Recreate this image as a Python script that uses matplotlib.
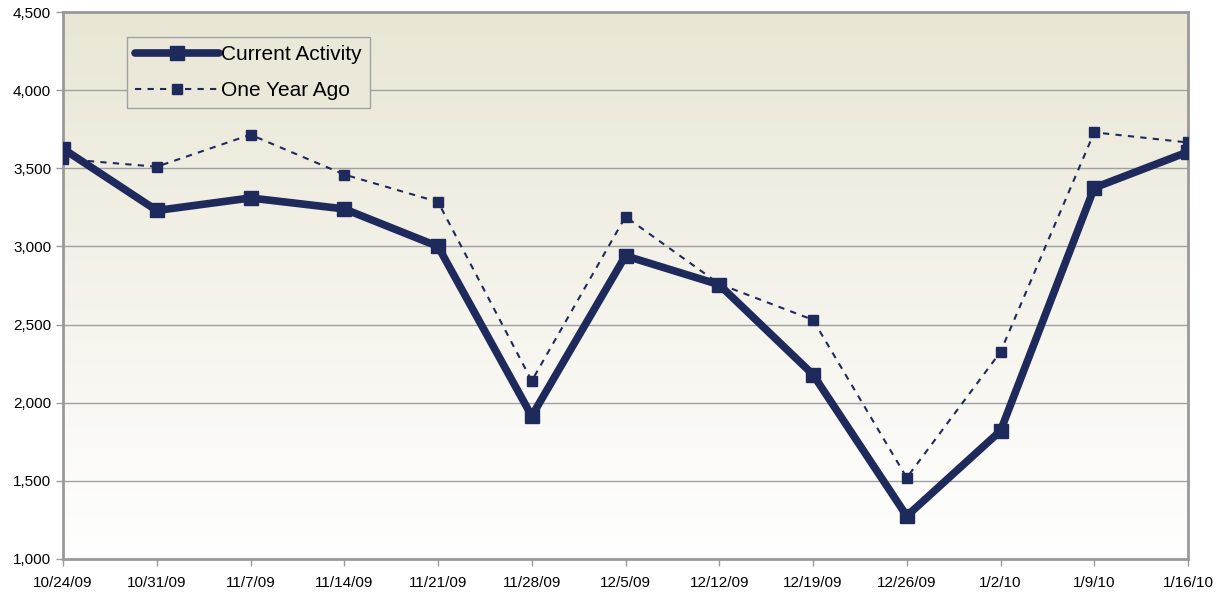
import numpy as np
import matplotlib
matplotlib.use("Agg")
import matplotlib.pyplot as plt
from matplotlib.colors import LinearSegmentedColormap

plt.rcParams['font.family'] = ['Liberation Sans', 'DejaVu Sans']

weeks = ['10/24/09', '10/31/09', '11/7/09', '11/14/09', '11/21/09', '11/28/09', '12/5/09',
         '12/12/09', '12/19/09', '12/26/09', '1/2/10', '1/9/10', '1/16/10']
current = [3625, 3230, 3310, 3240, 3000, 1915, 2940, 2755, 2180, 1275, 1820, 3375, 3605]
year_ago = [3560, 3510, 3715, 3460, 3285, 2140, 3190, 2760, 2530, 1520, 2325, 3730, 3665]

navy = '#1f2a5c'
x = np.arange(len(weeks))

fig = plt.figure(figsize=(12.2, 5.94), dpi=100)
ax = fig.add_axes([63/1220, 1 - 559/594, (1188-63)/1220, (559-12)/594])

# beige-to-white gradient background
cmap = LinearSegmentedColormap.from_list('bg', ['#ffffff', '#e9e6d5'])
grad = np.linspace(0, 1, 256).reshape(-1, 1)
ax.imshow(grad, cmap=cmap, aspect='auto', origin='lower',
          extent=[0, len(weeks)-1, 1000, 4500], zorder=0)

ax.plot(x, current, color=navy, lw=5.5, marker='s', ms=10, solid_capstyle='round',
        label='Current Activity', zorder=3)
ax.plot(x, year_ago, color=navy, lw=1.5, ls=(0, (3, 3)), marker='s', ms=7.5,
        label='One Year Ago', zorder=3)

ax.set_xlim(0, len(weeks)-1)
ax.set_ylim(1000, 4500)
ax.set_yticks(np.arange(1000, 4501, 500))
ax.yaxis.set_major_formatter(matplotlib.ticker.FuncFormatter(lambda v, p: '{:,.0f}'.format(v)))
ax.set_xticks(x)
ax.set_xticklabels(weeks)
ax.grid(axis='y', color='#a0a0a0', lw=1)
ax.set_axisbelow(True)
for s in ax.spines.values():
    s.set_color('#999999')
    s.set_linewidth(2)
ax.tick_params(colors='#999999', labelcolor='black', labelsize=11, length=5, width=1)
ax.tick_params(axis='x', pad=7)

leg = ax.legend(loc='upper left', bbox_to_anchor=(64/1125, 1 - 25/547), fontsize=15, frameon=True,
                fancybox=False, handlelength=4.0, handletextpad=0.1, borderpad=0.4,
                borderaxespad=0, labelspacing=0.8)
leg.get_frame().set_edgecolor('#a0a0a0')
leg.get_frame().set_facecolor('#ebe8da')
leg.get_frame().set_alpha(1)

fig.savefig('out.png', dpi=100)
